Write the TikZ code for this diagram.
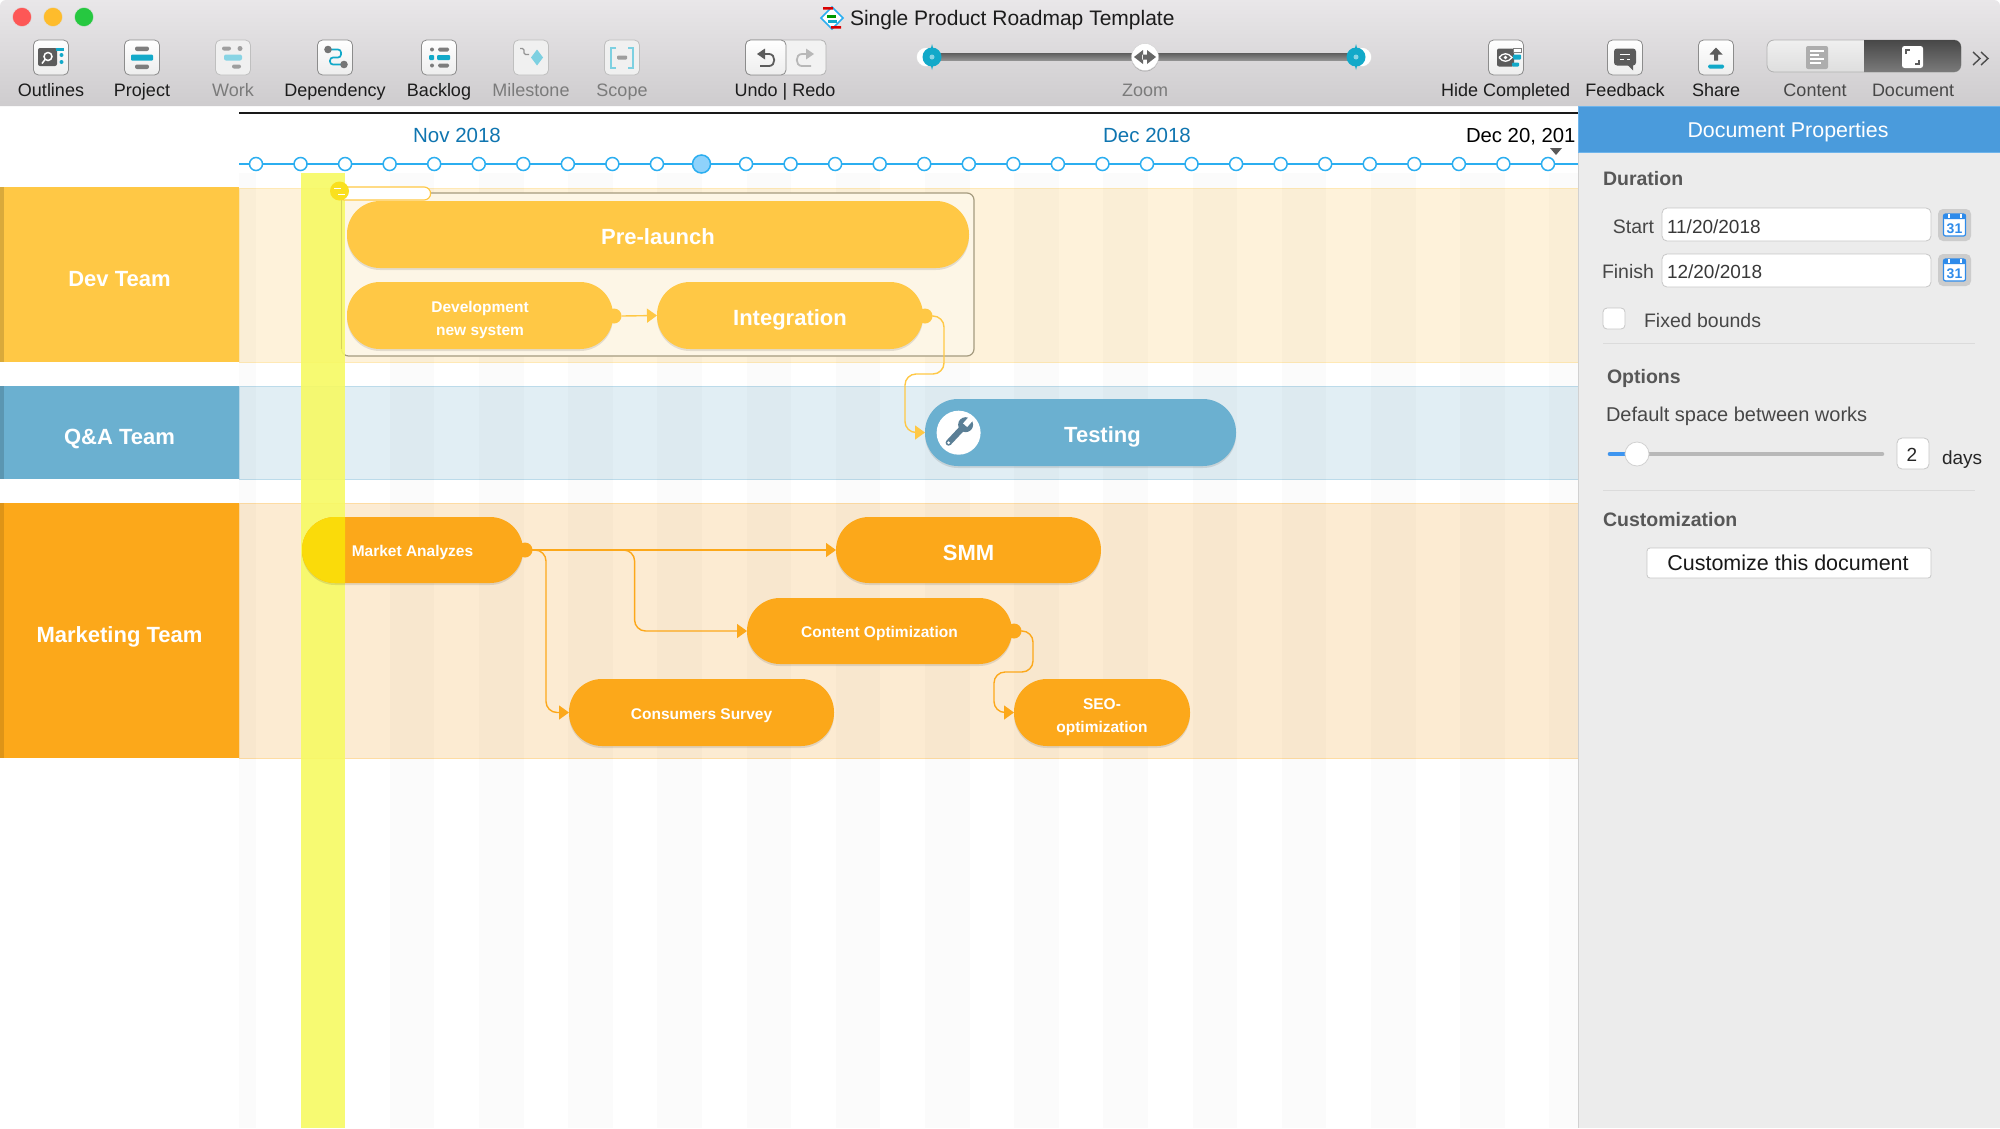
\documentclass[tikz,border=0pt]{standalone}
\usepackage{fontspec}
\setmainfont{Liberation Sans}
\usetikzlibrary{arrows.meta,shadows,calc}
\definecolor{devc}{HTML}{FFC845}
\definecolor{qac}{HTML}{6BB0D0}
\definecolor{mkc}{HTML}{FCA81A}
\definecolor{teal}{HTML}{12A9C9}
\definecolor{tline}{HTML}{2BAEF0}
\definecolor{dk}{HTML}{5C5C5C}
\definecolor{fadet}{HTML}{7B7B7B}
\definecolor{lbl}{HTML}{1C1C1C}
\definecolor{cDevBand}{HTML}{FEF2DA}
\definecolor{cQaBand}{HTML}{E1EEF4}
\definecolor{cMkBand}{HTML}{FCEBD2}
\definecolor{cBox}{HTML}{A59B7F}
\definecolor{cBoxF}{HTML}{FDF6E6}
\definecolor{cToday}{HTML}{F7FA64}
\definecolor{cTodayL}{HTML}{D8D35A}
\definecolor{cMonth}{HTML}{0F75B0}
\definecolor{cNow}{HTML}{8FD2FB}
\definecolor{cMark}{HTML}{FADB0A}
\definecolor{cColl}{HTML}{FAE01E}
\definecolor{cWr}{HTML}{5B7F96}
\definecolor{cTop}{HTML}{E9E7E9}
\definecolor{cBot}{HTML}{CECCCE}
\definecolor{cRed}{HTML}{FD5756}
\definecolor{cYel}{HTML}{FEBC2C}
\definecolor{cGrn}{HTML}{26C840}
\definecolor{cHead}{HTML}{4A9BDC}
\definecolor{cHeadL}{HTML}{6EB4EB}
\definecolor{cCal}{HTML}{2E8BEA}
\definecolor{cSl}{HTML}{3D95F0}
\newcommand{\fs}[1]{\fontsize{#1}{#1}\selectfont}
\tikzset{
  x=1pt,y=-1pt,
  txt/.style={inner sep=0,outer sep=0,text height=.72em,text depth=.2em,yshift=-4.5pt},
  tbtn/.style={draw=black!45,line width=.8pt,rounded corners=5pt,inner sep=0,minimum width=35pt,minimum height=35pt,top color=white,bottom color=black!7},
  tbtnf/.style={draw=black!25,line width=.8pt,rounded corners=5pt,inner sep=0,minimum width=35pt,minimum height=35pt,fill=black!6},
  tlab/.style={txt,font=\fs{18},text=lbl},
  tlabf/.style={txt,font=\fs{18},text=fadet},
  tdot/.style={circle,draw=tline,line width=1.5pt,fill=white,inner sep=0,minimum size=13pt},
  band/.style={draw=#1,line width=1pt},
  head/.style={font=\fs{22}\bfseries,text=white,align=center,text height=24pt,text depth=0pt},
  pill/.style={rounded corners=33pt,fill=#1,text=white,align=center,font=\fs{22}\bfseries,
     drop shadow={shadow xshift=0pt,shadow yshift=-2pt,opacity=.10,fill=black}},
  big/.style={text height=20pt,text depth=0pt},
  small/.style={font=\fs{15.5}\bfseries},
  oneline/.style={text height=13.5pt,text depth=0pt},
  hdl/.style={circle,fill=#1,inner sep=0,minimum size=15pt},
  conn/.style={draw=#1,line width=1.4pt,rounded corners=11pt,-{Triangle[length=10pt,width=14pt]}},
  ptxt/.style={txt,font=\fs{19.5},text=black!72},
  pbold/.style={txt,font=\fs{19.5}\bfseries,text=black!66},
  field/.style={draw=black!22,line width=.8pt,fill=white,rounded corners=5pt},
  calbtn/.style={fill=black!20,rounded corners=5pt},
  hr/.style={draw=black!14,line width=1pt},
}
\newcommand{\bx}[7][]{\node[inner sep=0,outer sep=0,minimum width={(#5-#3)*1pt},minimum height={(#6-#4)*1pt},#1] (#2) at ({(#3+#5)/2},{(#4+#6)/2}) {#7};}
\newcommand{\calicon}[2]{%
  \begin{scope}[shift={(1954.5,#1)}]
    \fill[white,rounded corners=2pt] (-11,-11) rectangle (11,11);
    \draw[cCal,line width=1.2pt,rounded corners=2pt] (-11,-11) rectangle (11,11);
    \fill[cCal,rounded corners=1pt] (-11,-11) rectangle (11,-6);
    \foreach \q in {-6,6}{\fill[white] (\q-1,-11) rectangle (\q+1,-7);}
    \node[txt,font=\fs{14}\bfseries,text=cCal] (#2) at (0,1) {31};
  \end{scope}}
\begin{document}
\begin{tikzpicture}
\useasboundingbox (0,0) rectangle (2000,1128);
\fill[white] (0,0) rectangle (2000,1128);

%% bands
\bx[band=devc!40,fill=cDevBand]{bandDev}{239}{188}{1578}{362}{}
\bx[band=qac!45,fill=cQaBand]{bandQa}{239}{386}{1578}{479}{}
\bx[band=mkc!40,fill=cMkBand]{bandMk}{239}{503}{1578}{758}{}
%% stripes
\begin{scope}
  \clip (239,173) rectangle (1578,1128);
  \fill[black,opacity=.017] (239,173) rectangle (256,1128);
  \foreach \k in {0,...,14}{\fill[black,opacity=.017] ({300.6+89.2*\k},173) rectangle ({345.2+89.2*\k},1128);}
\end{scope}
%% group box
\bx[draw=cBox,line width=1.2pt,fill=cBoxF,rounded corners=7pt]{group}{341.5}{193}{974}{356}{}
%% today column
\fill[cToday,opacity=.9] (301,173) rectangle (345,1128);
\draw[cTodayL,line width=1.2pt] (341.5,200) -- (341.5,349);
%% team labels
\bx[fill=devc,head]{lDev}{0}{187}{239}{362}{Dev Team}
\fill[devc!85!black] (0,187) rectangle (4,362);
\bx[fill=qac,head]{lQa}{0}{386}{239}{479}{Q\&A Team}
\fill[qac!85!black] (0,386) rectangle (4,479);
\bx[fill=mkc,head]{lMk}{0}{503}{239}{758}{Marketing Team}
\fill[mkc!88!black] (0,503) rectangle (4,758);

%% timeline
\draw[black!90,line width=2.5pt] (239,113) -- (1578,113);
\draw[tline,line width=2.3pt] (239,164) -- (1578,164);
\foreach \i in {0,...,29}{\node[tdot] (t\i) at ({256+44.55*\i},164) {};}
\node[tdot,fill=cNow,minimum size=18pt] (tNow) at (t10) {};
\node[txt,font=\fs{20.5},text=cMonth] (mNov) at (457,135) {Nov 2018};
\node[txt,font=\fs{20.5},text=cMonth] (mDec) at (1147,135) {Dec 2018};
\node[txt,font=\fs{20.3},text=black,anchor=west] (mEnd) at (1466,135) {Dec 20, 201};
\fill[black!65] (1550,148) -- (1562,148) -- (1556,155) -- cycle;

%% tasks
\bx[pill=devc,big]{pre}{347}{201}{969}{268}{Pre-launch}
\bx[pill=devc,small]{devsys}{347}{282}{613}{349}{\rule{0pt}{20pt}Development\\[7.6pt]new system}
\bx[pill=devc,big]{integ}{657}{282}{923}{349}{Integration}
\bx[pill=qac,big]{test}{925}{399}{1236}{466}{\hspace*{44pt}Testing}
\bx[pill=mkc,small,oneline]{market}{302}{517}{523}{583}{Market Analyzes}
\bx[pill=mkc,big]{smm}{836}{517}{1101}{583}{SMM}
\bx[pill=mkc,small,oneline]{content}{747}{598}{1012}{664}{Content Optimization}
\bx[pill=mkc,small,oneline]{survey}{569}{679}{834}{746}{Consumers Survey}
\bx[pill=mkc,small]{seo}{1014}{679}{1190}{746}{\rule{0pt}{20pt}SEO-\\[7.6pt]optimization}
\begin{scope}
  \clip (301,510) rectangle (345,590);
  \fill[cMark,rounded corners=33pt] (302,517) rectangle (523,583);
\end{scope}

%% collapse control
\bx[draw=devc,line width=1.2pt,fill=white,rounded corners=6.5pt]{coll}{338}{187}{430.6}{200}{}
\node[circle,fill=cColl,inner sep=0,minimum size=19pt] (collDot) at (339.5,191) {};
\draw[white,line width=1pt] (334,188) -- (341,188) (338,194) -- (345,194);

%% handles
\node[hdl=devc] (hDev) at (614,316) {};
\node[hdl=devc] (hInt) at (925,316) {};
\node[hdl=mkc] (hMk) at (525,550) {};
\node[hdl=mkc] (hCo) at (1014,631) {};
%% connector bends
\coordinate (bi1) at (944,374);
\coordinate (bi2) at (905,374);
\coordinate (bm1) at (634.6,631);
\coordinate (bm2) at (546,712.5);
\coordinate (bc1) at (1033,672);
\coordinate (bc2) at (994,672);
%% connectors
\draw[conn=devc] (hDev.east) -- (integ.west);
\draw[conn=devc] (hInt.center) -| (bi1) -- (bi2) |- (test.west);
\draw[conn=mkc] (hMk.center) -- (smm.west);
\draw[conn=mkc] (hMk.center) -| (bm1) -- (content.west);
\draw[conn=mkc] (hMk.center) -| (bm2) -- (survey.west);
\draw[conn=mkc] (hCo.center) -| (bc1) -- (bc2) |- (seo.west);

%% wrench
\node[circle,fill=white,inner sep=0,minimum size=44pt] (wr) at (958.6,432.7) {};
\begin{scope}[shift={(958.6,432.7)}]
  \draw[cWr,line width=6pt,line cap=round] (-10,10) -- (5,-6);
  \fill[cWr] (7,-8) circle (7.5);
  \draw[white,line width=5.5pt] (6.5,-7.5) -- (14,-16);
  \fill[white] (-10,10) circle (1.5);
\end{scope}

%% toolbar
\shade[top color=cTop,bottom color=cBot] (0,106) [rounded corners=6pt] -- (0,0) -- (2000,0) [sharp corners] -- (2000,106) -- cycle;
\node[circle,fill=cRed,draw=black!12,inner sep=0,minimum size=19pt] (wRed) at (22,17) {};
\node[circle,fill=cYel,draw=black!12,inner sep=0,minimum size=19pt] (wYel) at (53,17) {};
\node[circle,fill=cGrn,draw=black!12,inner sep=0,minimum size=19pt] (wGrn) at (84,17) {};
%% title
\node[txt,font=\fs{21},text=lbl,anchor=west] (title) at (850,18) {Single Product Roadmap Template};
\begin{scope}[shift={(832,18)}]
  \draw[tline,line width=1.5pt,fill=white] (-11,0) -- (0,-11) -- (11,0) -- (0,11) -- cycle;
  \fill[red!85!black] (-9,-11) rectangle (1,-8.5) (-1,8) rectangle (9,10.5);
  \fill[green!60!black] (-5,-3) rectangle (4,-.5);
  \fill[teal] (-4,2) rectangle (5,4.5);
\end{scope}

%% toolbar buttons
\node[tbtn] (bOut) at (51,57.5) {};
\node[tlab] (lOut) at (51,89) {Outlines};
\begin{scope}[shift={(51,57.5)}]
  \fill[dk,rounded corners=2pt] (-13,-9.5) rectangle (6,8.5);
  \draw[white,line width=1.5pt] (-3,-1) circle (4) (-6,2) -- (-9,6);
  \fill[teal] (5,-9.5) rectangle (13,-7);
  \fill[teal] (10.5,-2.5) circle (2) (10.5,4.5) circle (2);
\end{scope}
\node[tbtn] (bPrj) at (142,57.5) {};
\node[tlab] (lPrj) at (142,89) {Project};
\begin{scope}[shift={(142,57.5)}]
  \fill[dk!80,rounded corners=2pt] (-7,-11) rectangle (7,-6.5) (-7,7) rectangle (7,11.5);
  \fill[teal,rounded corners=1pt] (-11,-3) rectangle (11,3);
\end{scope}
\node[tbtnf] (bWrk) at (233,57.5) {};
\node[tlabf] (lWrk) at (233,89) {Work};
\begin{scope}[shift={(233,57.5)}]
  \fill[black!38,rounded corners=2pt] (-11,-11) rectangle (-2,-7) (-1,7) rectangle (8,11);
  \fill[black!38] (7,-9) circle (2.5);
  \fill[teal!50!white,rounded corners=2pt] (-9,-3) rectangle (9,3);
\end{scope}
\node[tbtn] (bDep) at (335,57.5) {};
\node[tlab] (lDep) at (335,89) {Dependency};
\begin{scope}[shift={(335,57.5)}]
  \draw[teal,line width=1.7pt,rounded corners=3pt] (-7,-8) -- (6,-8) -- (6,0) -- (-5,0) -- (-5,7) -- (8,7);
  \fill[dk!85] (-7,-8) circle (3.8) (9,7) circle (3.8);
\end{scope}
\node[tbtn] (bBck) at (439,57.5) {};
\node[tlab] (lBck) at (439,89) {Backlog};
\begin{scope}[shift={(439,57.5)}]
  \fill[dk!80] (-7,-8) circle (2) (-7,8) circle (2);
  \fill[dk!80,rounded corners=1.5pt] (-1,-10) rectangle (10,-6) (-1,6) rectangle (10,10);
  \fill[teal,rounded corners=1pt] (-10,-2.5) rectangle (-5,2.5) (-2,-2.5) rectangle (11,2.5);
\end{scope}
\node[tbtnf] (bMil) at (531,57.5) {};
\node[tlabf] (lMil) at (531,89) {Milestone};
\begin{scope}[shift={(531,57.5)}]
  \draw[black!42,line width=1.4pt,rounded corners=1.5pt] (-11,-9) -- (-7,-9) -- (-7,-3) -- (-2,-3);
  \fill[teal!55!white] (6,-8) -- (12,0) -- (6,8) -- (0,0) -- cycle;
\end{scope}
\node[tbtnf] (bScp) at (622,57.5) {};
\node[tlabf] (lScp) at (622,89) {Scope};
\begin{scope}[shift={(622,57.5)}]
  \draw[teal!55!white,line width=2pt] (-6,-10) -- (-11,-10) -- (-11,10) -- (-6,10) (6,-10) -- (11,-10) -- (11,10) -- (6,10);
  \fill[black!38,rounded corners=1pt] (-5,-2) rectangle (5,2);
\end{scope}
%% undo redo
\bx[draw=black!30,line width=.8pt,rounded corners=5pt,fill=black!5]{bHist}{745.5}{40}{826}{75}{}
\draw[black!45,rounded corners=5pt,top color=white,bottom color=black!7,line width=.8pt] (745.5,40) rectangle (786,75);
\node[tlab] (lHist) at (785,89) {Undo | Redo};
\draw[dk,line width=1.8pt] (760,66) -- (769,66) to[out=0,in=0,looseness=1.5] (769,54) -- (760,54);
\fill[dk] (757,54) -- (765,48.5) -- (765,59.5) -- cycle;
\draw[black!28,line width=1.8pt] (811,66) -- (802,66) to[out=180,in=180,looseness=1.5] (802,54) -- (811,54);
\fill[black!28] (814,54) -- (806,48.5) -- (806,59.5) -- cycle;
%% zoom slider
\shade[top color=black!62,bottom color=black!42] (932,53.5) rectangle (1356,60.5);
\node[circle,fill=white,draw=black!15,inner sep=0,minimum size=19pt] (zL0) at (926,57) {};
\node[circle,fill=white,draw=black!15,inner sep=0,minimum size=19pt] (zR0) at (1362,57) {};
\node[circle,fill=teal,inner sep=0,minimum size=19pt] (zL) at (932,57) {};
\node[circle,fill=teal,inner sep=0,minimum size=19pt] (zR) at (1356,57) {};
\fill[teal] (932,44) -- (933.5,50) -- (930.5,50) -- cycle (932,70) -- (933.5,64) -- (930.5,64) -- cycle (1356,44) -- (1357.5,50) -- (1354.5,50) -- cycle (1356,70) -- (1357.5,64) -- (1354.5,64) -- cycle;
\fill[teal!50!white] (932,57) circle (2.5) (1356,57) circle (2.5);
\node[circle,fill=white,draw=black!18,inner sep=0,minimum size=27pt,drop shadow={shadow xshift=0pt,shadow yshift=-1pt,opacity=.2,fill=black}] (zM) at (1145,57) {};
\fill[black!60] (1134,57) -- (1143,50) -- (1143,64) -- cycle (1156,57) -- (1147,50) -- (1147,64) -- cycle (1142,54.5) rectangle (1148,59.5);
\node[txt,font=\fs{18},text=fadet] (lZoom) at (1145,89) {Zoom};
%% right side buttons
\node[tbtn] (bHid) at (1506,57.5) {};
\node[tlab] (lHid) at (1505.6,89) {Hide Completed};
\begin{scope}[shift={(1506,57.5)}]
  \fill[dk,rounded corners=2pt] (-9,-9) rectangle (8,9);
  \draw[white,line width=1.3pt] (-7,0) .. controls (-3,-5) and (2,-5) .. (6,0) .. controls (2,5) and (-3,5) .. (-7,0);
  \fill[white] (-.5,0) circle (1.8);
  \draw[black!50,fill=white,line width=.6pt] (7,-9) rectangle (15,-5);
  \fill[teal,rounded corners=1pt] (7,-3) rectangle (15,2);
  \fill[teal,rounded corners=1pt] (6,5) rectangle (13,9);
\end{scope}
\node[tbtn] (bFbk) at (1625,57.5) {};
\node[tlab] (lFbk) at (1625,89) {Feedback};
\begin{scope}[shift={(1625,57.5)}]
  \fill[dk,rounded corners=3pt] (-11,-9) rectangle (11,8);
  \fill[dk] (2,7) -- (8,7) -- (8,13) -- cycle;
  \draw[white,line width=1.2pt] (-5,-3) -- (5,-3) (-5,2) -- (-1,2) (2,2) -- (5,2);
\end{scope}
\node[tbtn] (bShr) at (1716,57.5) {};
\node[tlab] (lShr) at (1716,89) {Share};
\begin{scope}[shift={(1716,57.5)}]
  \fill[dk] (0,-10) -- (6.5,-3) -- (2,-3) -- (2,3) -- (-2,3) -- (-2,-3) -- (-6.5,-3) -- cycle;
  \fill[teal,rounded corners=1.5pt] (-8,7) rectangle (8,11);
\end{scope}
%% segment control
\bx[draw=black!30,line width=.8pt,rounded corners=7pt,top color=black!6,bottom color=black!13]{segL}{1767}{40}{1961}{72}{}
\begin{scope}
  \clip (1864,38) rectangle (1963,74);
  \shade[top color=black!72,bottom color=black!52,rounded corners=7pt] (1767,40) rectangle (1961,72);
\end{scope}
\fill[black!32,rounded corners=2pt] (1806,46) rectangle (1828,69);
\draw[white,line width=1.2pt] (1810,51) -- (1824,51) (1810,55) -- (1819,55) (1810,59) -- (1824,59) (1810,63) -- (1821,63);
\fill[white,rounded corners=2.5pt] (1902,46) rectangle (1923,68);
\draw[dk,line width=1.2pt] (1906,54) -- (1906,50) -- (1910,50) (1919,60) -- (1919,64) -- (1915,64);
\node[txt,font=\fs{18},text=black!72] (lCnt) at (1815,89) {Content};
\node[txt,font=\fs{18},text=black!72] (lDoc) at (1913,89) {Document};
\draw[black!70,line width=1.4pt] (1973,52) -- (1980,58.5) -- (1973,65) (1981,52) -- (1988,58.5) -- (1981,65);

%% panel
\fill[black!7.5] (1578,152) rectangle (2000,1128);
\draw[black!18,line width=1pt] (1578,152) -- (1578,1128);
\bx[fill=cHead,draw=cHeadL,line width=.8pt]{pHead}{1578}{106}{2000}{152}{}
\node[txt,font=\fs{21.4},text=white] (pTitle) at (1788,130) {Document Properties};
\node[pbold,anchor=west] (pDur) at (1603,178) {Duration};
\node[ptxt,anchor=east] (pSt) at (1654,226) {Start};
\bx[field]{fStart}{1662}{208}{1931}{241}{}
\node[txt,font=\fs{19},text=black!78,anchor=west] (vStart) at (1667,226) {11/20/2018};
\bx[calbtn]{cb1}{1938}{209}{1971}{241}{}
\calicon{225}{cal1}
\node[ptxt,anchor=east] (pFn) at (1654,271) {Finish};
\bx[field]{fFin}{1662}{254}{1931}{287}{}
\node[txt,font=\fs{19},text=black!78,anchor=west] (vFin) at (1667,271) {12/20/2018};
\bx[calbtn]{cb2}{1938}{254}{1971}{286}{}
\calicon{270}{cal2}
\bx[field,rounded corners=4pt]{chk}{1603}{308}{1625}{329}{}
\node[ptxt,anchor=west] (pFix) at (1644,320) {Fixed bounds};
\draw[hr] (1603,343) -- (1975,343);
\node[pbold,anchor=west] (pOpt) at (1607,376) {Options};
\node[txt,font=\fs{20},text=black!72,anchor=west] (pDef) at (1606,414) {Default space between works};
\draw[black!28,line width=4.5pt,line cap=round] (1610,454) -- (1882,454);
\draw[cSl,line width=4.5pt,line cap=round] (1610,454) -- (1632,454);
\node[circle,fill=white,draw=black!18,line width=.8pt,inner sep=0,minimum size=24pt] (knob) at (1637,454) {};
\bx[field]{val}{1897}{438}{1929}{469}{}
\node[txt,font=\fs{19},text=black!85] (vVal) at (1912,454) {2};
\node[txt,font=\fs{19},text=black!85,anchor=west] (pDays) at (1942,457) {days};
\draw[hr] (1603,490) -- (1975,490);
\node[pbold,anchor=west] (pCus) at (1603,519) {Customization};
\bx[field,rounded corners=3pt]{btnCus}{1647}{548}{1931}{578}{}
\node[txt,font=\fs{21.5},text=black!90] (tCus) at (1788,563) {Customize this document};
\end{tikzpicture}
\end{document}
